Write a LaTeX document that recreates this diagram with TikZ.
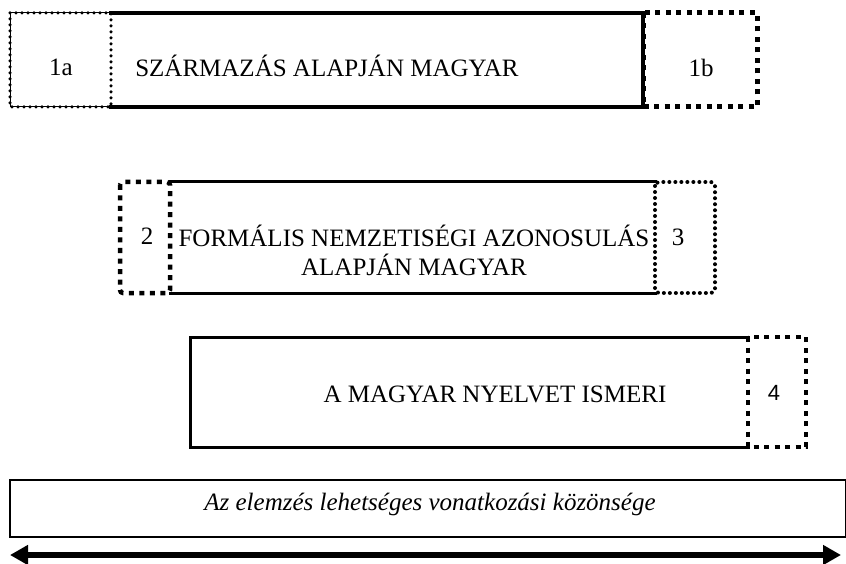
\documentclass[tikz,border=0pt]{standalone}
\usepackage{fontspec}
\setmainfont{Liberation Serif}
\newfontfamily\numfont{Liberation Sans}
\usetikzlibrary{arrows.meta}

\tikzset{
  area/.style={inner sep=0pt,outer sep=0pt},
  caption/.style={inner sep=0pt,outer sep=0pt,anchor=base,font=\fontsize{25}{29}\selectfont},
  edge/.style={line width=#1,line cap=rect},
  roundfence/.style={line width=#1,line cap=round,dash pattern=on 0pt off 6pt},
  squarefence/.style={line width=#1,dash pattern=on 5pt off 5.5pt},
}

\begin{document}
\begin{tikzpicture}[x=1pt,y=-1pt]
  \useasboundingbox (0,0) rectangle (846,564);

  % first row
  \node[area,minimum width=532pt,minimum height=94pt,anchor=north west] (born) at (111,13) {};
  \draw[edge=4.5pt] (born.north west) -- (born.north east) -- (born.south east) -- (born.south west);
  \node[area,minimum width=101pt,minimum height=94pt,anchor=north east] (oneA) at (born.north west) {};
  \draw[line width=1pt] (oneA.north east) -- (oneA.north west) -- (oneA.south west) -- (oneA.south east);
  \draw[roundfence=3.5pt] (oneA.north west) rectangle (oneA.south east);
  \node[area,minimum width=114pt,minimum height=94pt,anchor=north west] (oneB) at (born.north east) {};
  \draw[squarefence=5pt] (oneB.north west) rectangle (oneB.south east);
  \node[caption] (oneAText) at (61,76) {1a};
  \node[caption] (bornText) at (327,77) {SZÁRMAZÁS ALAPJÁN MAGYAR};
  \node[caption] (oneBText) at (701,77) {1b};

  % second row
  \node[area,minimum width=485pt,minimum height=111pt,anchor=north west] (formal) at (170,182) {};
  \draw[edge=3pt] (formal.north west) -- (formal.north east);
  \draw[edge=3pt] (formal.south west) -- (formal.south east);
  \node[area,minimum width=50pt,minimum height=111pt,anchor=north east] (two) at (formal.north west) {};
  \draw[squarefence=4.5pt,rounded corners=3pt] (two.north west) rectangle (two.south east);
  \node[area,minimum width=60pt,minimum height=111pt,anchor=north west] (three) at (formal.north east) {};
  \draw[roundfence=4pt,rounded corners=4pt] (three.north west) rectangle (three.south east);
  \node[caption] (formalText) at (414,247) {FORMÁLIS NEMZETISÉGI AZONOSULÁS};
  \node[caption] (formalTextB) at (414,276) {ALAPJÁN MAGYAR};
  \node[caption] (twoText) at (147,244) {2};
  \node[caption] (threeText) at (678,245) {3};

  % third row
  \node[area,minimum width=558pt,minimum height=110pt,anchor=north west] (lang) at (190,337) {};
  \draw[edge=3pt] (lang.north east) -- (lang.north west) -- (lang.south west) -- (lang.south east);
  \node[area,minimum width=58pt,minimum height=110pt,anchor=north west] (four) at (lang.north east) {};
  \draw[squarefence=4.5pt] (four.north west) rectangle (four.south east);
  \node[caption] (langText) at (495,402) {A MAGYAR NYELVET ISMERI};
  \node[caption,font=\fontsize{22}{26}\numfont] (fourText) at (774,400) {4};

  % population
  \node[area,draw,line width=1.2pt,minimum width=836pt,minimum height=57pt,anchor=north west] (scope) at (10,480) {};
  \node[caption,font=\fontsize{25}{29}\selectfont\itshape] (scopeText) at (430,510)
    {Az elemzés lehetséges vonatkozási közönsége};
  \coordinate (arrowL) at (10,555);
  \coordinate (arrowR) at (841,555);
  \draw[line width=6pt,{Triangle[length=18pt,width=19pt]}-{Triangle[length=18pt,width=19pt]}] (arrowL) -- (arrowR);
\end{tikzpicture}
\end{document}
